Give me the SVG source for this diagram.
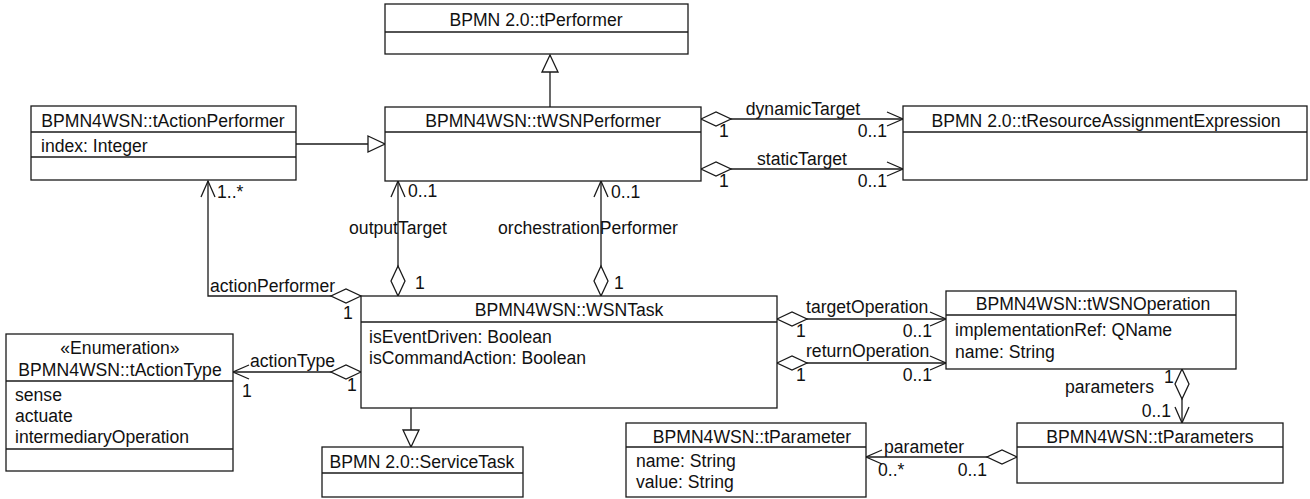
<svg xmlns="http://www.w3.org/2000/svg" width="1310" height="499" viewBox="0 0 1310 499">
<style>
.box{fill:#fff;stroke:#1a1a1a;stroke-width:1.3}
.sep{stroke:#1a1a1a;stroke-width:1.3}
.ln{fill:none;stroke:#1a1a1a;stroke-width:1.3}
text{font-family:"Liberation Sans",Arial,sans-serif;font-size:17.6px;fill:#111}
.c{text-anchor:middle}
.e{text-anchor:end}
</style>
<defs>
<marker id="dia" markerUnits="userSpaceOnUse" orient="auto" refX="0" refY="0" markerWidth="40" markerHeight="20" overflow="visible">
<path d="M0,0 L15,-7 L30,0 L15,7 Z" fill="#fff" stroke="#1a1a1a" stroke-width="1.3"/>
</marker>
<marker id="arr" markerUnits="userSpaceOnUse" orient="auto" refX="0" refY="0" markerWidth="20" markerHeight="20" overflow="visible">
<path d="M-16,-7 L0,0 L-16,7" fill="none" stroke="#1a1a1a" stroke-width="1.3"/>
</marker>
<marker id="tri" markerUnits="userSpaceOnUse" orient="auto" refX="0" refY="0" markerWidth="20" markerHeight="20" overflow="visible">
<path d="M-17,-8 L0,0 L-17,8 Z" fill="#fff" stroke="#1a1a1a" stroke-width="1.3"/>
</marker>
</defs>
<rect width="1310" height="499" fill="#fff"/>

<g id="connectors">
<path class="ln" d="M550,107 L550,55" marker-end="url(#tri)"/>
<path class="ln" d="M296,144 L385,144" marker-end="url(#tri)"/>
<path class="ln" d="M411,408 L411,447" marker-end="url(#tri)"/>
<path class="ln" d="M701,119 L903,119" marker-start="url(#dia)" marker-end="url(#arr)"/>
<path class="ln" d="M701,169 L903,169" marker-start="url(#dia)" marker-end="url(#arr)"/>
<path class="ln" d="M398,296 L398,181" marker-start="url(#dia)" marker-end="url(#arr)"/>
<path class="ln" d="M601,296 L601,181" marker-start="url(#dia)" marker-end="url(#arr)"/>
<path class="ln" d="M361,296 L208,296 L208,181" marker-start="url(#dia)" marker-end="url(#arr)"/>
<path class="ln" d="M361,372 L233,372" marker-start="url(#dia)" marker-end="url(#arr)"/>
<path class="ln" d="M777,319 L946,319" marker-start="url(#dia)" marker-end="url(#arr)"/>
<path class="ln" d="M777,363 L946,363" marker-start="url(#dia)" marker-end="url(#arr)"/>
<path class="ln" d="M1182,369 L1182,423" marker-start="url(#dia)" marker-end="url(#arr)"/>
<path class="ln" d="M1017,457 L866,457" marker-start="url(#dia)" marker-end="url(#arr)"/>

<text class="c" x="803" y="115">dynamicTarget</text>
<text x="719" y="137">1</text>
<text class="e" x="887" y="137">0..1</text>
<text class="c" x="802" y="165">staticTarget</text>
<text x="719" y="187">1</text>
<text class="e" x="887" y="187">0..1</text>
<text x="217" y="198">1..*</text>
<text x="408" y="197">0..1</text>
<text class="c" x="398" y="234">outputTarget</text>
<text x="415" y="289">1</text>
<text x="611" y="198">0..1</text>
<text class="c" x="588" y="234">orchestrationPerformer</text>
<text x="614" y="289">1</text>
<text x="210" y="292">actionPerformer</text>
<text x="343" y="319">1</text>
<text x="250" y="367">actionType</text>
<text x="347" y="391">1</text>
<text x="242" y="397">1</text>
<text x="806" y="313">targetOperation</text>
<text x="796" y="337">1</text>
<text class="e" x="932" y="337">0..1</text>
<text x="806" y="357">returnOperation</text>
<text x="796" y="381">1</text>
<text class="e" x="932" y="381">0..1</text>
<text class="e" x="1154" y="393">parameters</text>
<text x="1164" y="383">1</text>
<text class="e" x="1171" y="417">0..1</text>
<text x="884" y="453">parameter</text>
<text x="878" y="476">0..*</text>
<text class="e" x="987" y="476">0..1</text>
</g>

<g id="tPerformer">
<rect class="box" x="385" y="4" width="303" height="50"/>
<line class="sep" x1="385" y1="32" x2="688" y2="32"/>
<text class="c" x="536" y="26">BPMN 2.0::tPerformer</text>
</g>

<g id="tWSNPerformer">
<rect class="box" x="385" y="107" width="316" height="74"/>
<line class="sep" x1="385" y1="132" x2="701" y2="132"/>
<text class="c" x="543" y="127">BPMN4WSN::tWSNPerformer</text>
</g>

<g id="tActionPerformer">
<rect class="box" x="31" y="106" width="265" height="74"/>
<line class="sep" x1="31" y1="132" x2="296" y2="132"/>
<line class="sep" x1="31" y1="157" x2="296" y2="157"/>
<text class="c" x="163" y="127">BPMN4WSN::tActionPerformer</text>
<text x="41" y="152">index: Integer</text>
</g>

<g id="tResourceAssignmentExpression">
<rect class="box" x="903" y="106" width="404" height="74"/>
<line class="sep" x1="903" y1="132" x2="1307" y2="132"/>
<text class="c" x="1106" y="127">BPMN 2.0::tResourceAssignmentExpression</text>
</g>

<g id="WSNTask">
<rect class="box" x="361" y="296" width="416" height="112"/>
<line class="sep" x1="361" y1="322" x2="777" y2="322"/>
<text class="c" x="569" y="316">BPMN4WSN::WSNTask</text>
<text x="369" y="343">isEventDriven: Boolean</text>
<text x="369" y="364">isCommandAction: Boolean</text>
</g>

<g id="tActionType">
<rect class="box" x="6" y="334" width="227" height="137"/>
<line class="sep" x1="6" y1="381" x2="233" y2="381"/>
<line class="sep" x1="6" y1="449" x2="233" y2="449"/>
<text class="c" x="120" y="354">«Enumeration»</text>
<text class="c" x="120" y="376">BPMN4WSN::tActionType</text>
<text x="15" y="401">sense</text>
<text x="15" y="422">actuate</text>
<text x="15" y="443">intermediaryOperation</text>
</g>

<g id="ServiceTask">
<rect class="box" x="322" y="447" width="201" height="50"/>
<line class="sep" x1="322" y1="473" x2="523" y2="473"/>
<text class="c" x="422" y="468">BPMN 2.0::ServiceTask</text>
</g>

<g id="tWSNOperation">
<rect class="box" x="946" y="291" width="290" height="78"/>
<line class="sep" x1="946" y1="315" x2="1236" y2="315"/>
<text class="c" x="1093" y="310">BPMN4WSN::tWSNOperation</text>
<text x="955" y="336">implementationRef: QName</text>
<text x="955" y="358">name: String</text>
</g>

<g id="tParameters">
<rect class="box" x="1017" y="423" width="266" height="60"/>
<line class="sep" x1="1017" y1="447" x2="1283" y2="447"/>
<text class="c" x="1150" y="443">BPMN4WSN::tParameters</text>
</g>

<g id="tParameter">
<rect class="box" x="626" y="423" width="240" height="74"/>
<line class="sep" x1="626" y1="447" x2="866" y2="447"/>
<text class="c" x="752" y="443">BPMN4WSN::tParameter</text>
<text x="636" y="467">name: String</text>
<text x="636" y="488">value: String</text>
</g>
</svg>
